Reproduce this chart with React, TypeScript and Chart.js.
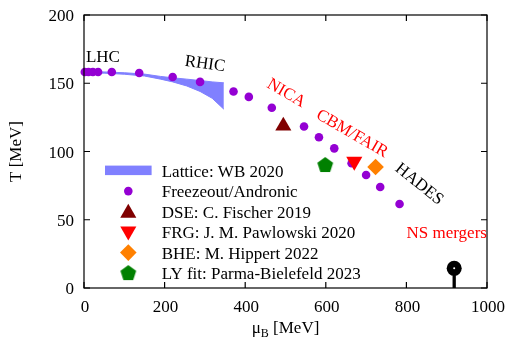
import React, { useEffect, useRef } from 'react';
import { Chart, registerables } from 'chart.js';

Chart.register(...registerables);

const FONT = '"Liberation Serif", "Times New Roman", serif';

// axes
const xTicks = [0, 200, 400, 600, 800, 1000];
const yTicks = [0, 50, 100, 150, 200];

// Lattice band (WB 2020)
const latticeMu = [0, 50, 100, 150, 190, 220, 255, 288, 318, 347];
const latticeUpper = [158.5, 158.3, 157.7, 156.7, 155.0, 154.0, 153.0, 152.0, 151.0, 150.3];
const latticeLower = [157.7, 157.4, 156.6, 155.3, 153.0, 151.0, 148.0, 144.0, 139.0, 131.0];

// Freeze-out (Andronic)
const freezeMu = [2, 11, 22, 35, 69, 137, 220, 288, 371, 409, 466, 546, 583, 621, 664, 700, 735, 783];
const freezeT = [158.2, 158.2, 158.2, 158.2, 158.2, 157.5, 154.6, 151.0, 144.0, 140.0, 132.0, 118.3, 110.4, 102.3, 91.4, 82.8, 74.0, 61.5];

// Critical point estimates
const dseMu = [494.6];
const dseT = [118.7];
const frgMu = [670.7];
const frgT = [92.7];
const bheMu = [723.5];
const bheT = [88.6];
const lyMu = [598.5];
const lyT = [90.1];
const nsMu = [918.6];
const nsT = [14.4];

const legendLabels = [
  'Lattice: WB 2020',
  'Freezeout/Andronic',
  'DSE: C. Fischer 2019',
  'FRG: J. M. Pawlowski 2020',
  'BHE: M. Hippert 2022',
  'LY fit: Parma-Bielefeld 2023',
];

const annotationTexts = ['LHC', 'RHIC', 'NICA', 'CBM/FAIR', 'HADES', 'NS mergers'];
const annotationMu = [47, 300, 501.5, 665, 831.7, 900];
const annotationT = [169.2, 164, 142.6, 113, 76, 40];
const annotationAngle = [0, 8, 30, 30, 39, 0];
const annotationColor = ['#000000', '#000000', '#ff0000', '#ff0000', '#000000', '#ff0000'];

const C_BAND = '#8080ff';
const C_FREEZE = '#9400d3';
const C_DSE = '#800000';
const C_FRG = '#ff0000';
const C_BHE = '#ff8000';
const C_LY = '#008000';

function makePentagon(r: number, color: string): HTMLCanvasElement {
  const c = document.createElement('canvas');
  const w = Math.ceil(2 * r * Math.sin((72 * Math.PI) / 180)) + 2;
  const h = Math.ceil(r * (1 + Math.cos((36 * Math.PI) / 180))) + 2;
  c.width = w;
  c.height = h;
  const ctx = c.getContext('2d')!;
  const cx = w / 2;
  const cy = 1 + r;
  ctx.beginPath();
  for (let i = 0; i < 5; i++) {
    const a = -Math.PI / 2 + (i * 2 * Math.PI) / 5;
    const px = cx + r * Math.cos(a);
    const py = cy + r * Math.sin(a);
    if (i === 0) ctx.moveTo(px, py);
    else ctx.lineTo(px, py);
  }
  ctx.closePath();
  ctx.fillStyle = color;
  ctx.fill();
  return c;
}

function pts(xs: number[], ys: number[]) {
  return xs.map((x, i) => ({ x, y: ys[i] }));
}

function drawTri(ctx: CanvasRenderingContext2D, x: number, y: number, r: number, down: boolean, color: string) {
  const s = down ? -1 : 1;
  ctx.beginPath();
  ctx.moveTo(x, y - s * r);
  ctx.lineTo(x + 0.866 * r, y + s * 0.5 * r);
  ctx.lineTo(x - 0.866 * r, y + s * 0.5 * r);
  ctx.closePath();
  ctx.fillStyle = color;
  ctx.fill();
}

export default function App() {
  const ref = useRef<HTMLCanvasElement>(null);

  useEffect(() => {
    document.body.style.margin = '0';
    const canvas = ref.current!;
    const pentagon = makePentagon(8.3, C_LY);

    const decor = {
      id: 'decor',
      afterDraw(chart: any) {
        const ctx: CanvasRenderingContext2D = chart.ctx;
        const xs = chart.scales.x;
        const ys = chart.scales.y;
        const { left, right, top, bottom } = chart.chartArea;
        ctx.save();
        // frame
        ctx.strokeStyle = '#000';
        ctx.lineWidth = 1.2;
        ctx.strokeRect(left, top, right - left, bottom - top);
        // ticks
        const tl = 6;
        ctx.beginPath();
        xTicks.forEach((v) => {
          const px = xs.getPixelForValue(v);
          ctx.moveTo(px, bottom);
          ctx.lineTo(px, bottom - tl);
          ctx.moveTo(px, top);
          ctx.lineTo(px, top + tl);
        });
        yTicks.forEach((v) => {
          const py = ys.getPixelForValue(v);
          ctx.moveTo(left, py);
          ctx.lineTo(left + tl, py);
          ctx.moveTo(right, py);
          ctx.lineTo(right - tl, py);
        });
        ctx.stroke();
        // tick labels
        ctx.fillStyle = '#000';
        ctx.font = `17px ${FONT}`;
        ctx.textBaseline = 'alphabetic';
        ctx.textAlign = 'center';
        xTicks.forEach((v) => {
          ctx.fillText(String(v), xs.getPixelForValue(v) + 1, bottom + 24);
        });
        ctx.textAlign = 'right';
        yTicks.forEach((v) => {
          ctx.fillText(String(v), left - 10, ys.getPixelForValue(v) + 6);
        });
        // y title
        ctx.save();
        ctx.translate(17, (top + bottom) / 2);
        ctx.rotate(-Math.PI / 2);
        ctx.textAlign = 'center';
        ctx.textBaseline = 'middle';
        ctx.fillText('T [MeV]', 0, 0);
        ctx.restore();
        // x title with subscript
        ctx.textAlign = 'left';
        ctx.font = `17px ${FONT}`;
        const wMu = ctx.measureText('μ').width;
        const wRest = ctx.measureText(' [MeV]').width;
        ctx.font = `12px ${FONT}`;
        const wB = ctx.measureText('B').width;
        const total = wMu + wB + wRest;
        let sx = (left + right) / 2 - total / 2;
        const base = 333;
        ctx.font = `17px ${FONT}`;
        ctx.fillText('μ', sx, base);
        sx += wMu;
        ctx.font = `12px ${FONT}`;
        ctx.fillText('B', sx, base + 4);
        sx += wB;
        ctx.font = `17px ${FONT}`;
        ctx.fillText(' [MeV]', sx, base);
        // annotations
        ctx.textAlign = 'center';
        ctx.textBaseline = 'middle';
        annotationTexts.forEach((t, i) => {
          ctx.save();
          ctx.translate(xs.getPixelForValue(annotationMu[i]), ys.getPixelForValue(annotationT[i]));
          ctx.rotate((annotationAngle[i] * Math.PI) / 180);
          ctx.fillStyle = annotationColor[i];
          ctx.font = `17px ${FONT}`;
          ctx.fillText(t, 0, 0);
          ctx.restore();
        });
        // legend
        const keyX = 128.3;
        const textX = 161.7;
        const base0 = 176.6;
        const step = 20.5;
        ctx.textAlign = 'left';
        ctx.textBaseline = 'alphabetic';
        ctx.fillStyle = '#000';
        legendLabels.forEach((lab, i) => {
          const b = base0 + i * step;
          ctx.fillStyle = '#000';
          ctx.font = `17px ${FONT}`;
          ctx.fillText(lab, textX, b);
          const cy = b - 6;
          if (i === 0) {
            ctx.fillStyle = C_BAND;
            ctx.fillRect(keyX - 23.3, cy - 5, 46.6, 9.5);
          } else if (i === 1) {
            ctx.fillStyle = C_FREEZE;
            ctx.beginPath();
            ctx.arc(keyX, cy, 4.3, 0, Math.PI * 2);
            ctx.fill();
          } else if (i === 2) {
            drawTri(ctx, keyX, cy + 1.5, 9.3, false, C_DSE);
          } else if (i === 3) {
            drawTri(ctx, keyX, cy - 1, 9.3, true, C_FRG);
          } else if (i === 4) {
            ctx.fillStyle = C_BHE;
            ctx.beginPath();
            ctx.moveTo(keyX, cy - 8.3);
            ctx.lineTo(keyX + 8.3, cy);
            ctx.lineTo(keyX, cy + 8.3);
            ctx.lineTo(keyX - 8.3, cy);
            ctx.closePath();
            ctx.fill();
          } else {
            ctx.drawImage(pentagon, keyX - pentagon.width / 2, cy - pentagon.height / 2);
          }
        });
        ctx.restore();
      },
    };

    const chart = new Chart(canvas, {
      type: 'scatter',
      data: {
        datasets: [
          {
            label: 'NS center',
            data: pts(nsMu, nsT),
            pointRadius: 1,
            pointBackgroundColor: '#ffffff',
            pointBorderWidth: 0,
            clip: false,
          } as any,
          {
            label: 'NS mergers',
            data: pts(nsMu, nsT),
            pointRadius: 7.5,
            pointBackgroundColor: '#000000',
            pointBorderWidth: 0,
            clip: false,
          },
          {
            type: 'line',
            label: 'NS line',
            data: pts([nsMu[0], nsMu[0]], [0, nsT[0]]),
            borderColor: '#000000',
            borderWidth: 3.3,
            pointRadius: 0,
            fill: false,
          },
          {
            label: legendLabels[5],
            data: pts(lyMu, lyT),
            pointStyle: pentagon as any,
            pointRadius: 8,
            clip: false,
          },
          {
            label: legendLabels[4],
            data: pts(bheMu, bheT),
            pointStyle: 'rectRot',
            pointRadius: 8.3,
            pointBackgroundColor: C_BHE,
            pointBorderWidth: 0,
            clip: false,
          },
          {
            label: legendLabels[3],
            data: pts(frgMu, frgT),
            pointStyle: 'triangle',
            rotation: 180,
            pointRadius: 9.3,
            pointBackgroundColor: C_FRG,
            pointBorderWidth: 0,
            clip: false,
          } as any,
          {
            label: legendLabels[2],
            data: pts(dseMu, dseT),
            pointStyle: 'triangle',
            pointRadius: 9.3,
            pointBackgroundColor: C_DSE,
            pointBorderWidth: 0,
            clip: false,
          },
          {
            label: legendLabels[1],
            data: pts(freezeMu, freezeT),
            pointRadius: 4.3,
            pointBackgroundColor: C_FREEZE,
            pointBorderWidth: 0,
            clip: false,
          },
          {
            type: 'line',
            label: legendLabels[0],
            data: pts(latticeMu, latticeUpper),
            borderColor: C_BAND,
            backgroundColor: C_BAND,
            borderWidth: 1,
            pointRadius: 0,
            fill: '+1',
            tension: 0,
          },
          {
            type: 'line',
            label: 'Lattice lower',
            data: pts(latticeMu, latticeLower),
            borderColor: C_BAND,
            backgroundColor: C_BAND,
            borderWidth: 1,
            pointRadius: 0,
            fill: false,
            tension: 0,
          },
        ] as any,
      },
      options: {
        responsive: false,
        animation: false,
        devicePixelRatio: 1,
        events: [],
        layout: { padding: { left: 84, right: 20, top: 15, bottom: 53 } },
        scales: {
          x: { type: 'linear', min: 0, max: 1000, display: false },
          y: { type: 'linear', min: 0, max: 200, display: false },
        },
        plugins: {
          legend: { display: false },
          tooltip: { enabled: false },
        },
      },
      plugins: [decor],
    });
    return () => chart.destroy();
  }, []);

  return (
    <div style={{ position: 'fixed', left: 0, top: 0, width: 507, height: 341, background: '#fff' }}>
      <canvas ref={ref} width={507} height={341} style={{ width: 507, height: 341, display: 'block' }} />
    </div>
  );
}
